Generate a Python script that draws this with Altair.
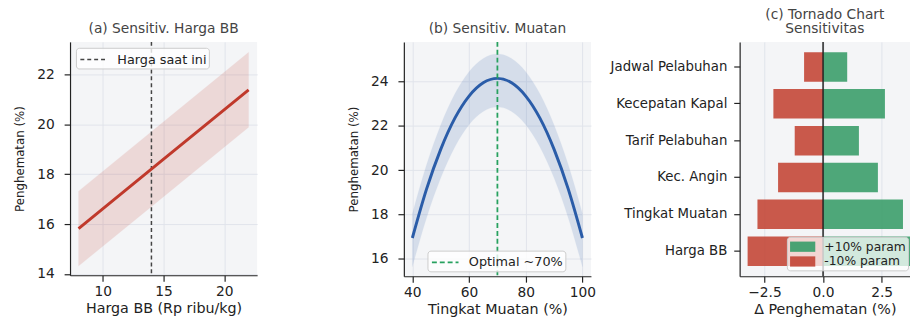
import altair as alt
import pandas as pd

# ---------- data ----------
# (a) sensitivity to fuel price
harga_bb = [8, 15, 22]
hemat_a = [15.82, 18.60, 21.38]
hemat_a_lo = [14.32, 17.10, 19.88]
hemat_a_hi = [17.32, 20.10, 22.88]
harga_saat_ini = 14

# (b) sensitivity to load level
muatan = [40, 45, 50, 55, 60, 65, 70, 75, 80, 85, 90, 95, 100]
hemat_b = [16.93, 19.14, 20.94, 22.35, 23.35, 23.95, 24.15, 23.95, 23.35, 22.35, 20.94, 19.14, 16.93]
hemat_b_lo = [15.63, 17.84, 19.64, 21.05, 22.05, 22.65, 22.85, 22.65, 22.05, 21.05, 19.64, 17.84, 15.63]
hemat_b_hi = [18.03, 20.24, 22.04, 23.45, 24.45, 25.05, 25.25, 25.05, 24.45, 23.45, 22.04, 20.24, 18.03]
muatan_optimal = 70

# (c) tornado chart
parameter = ["Jadwal Pelabuhan", "Kecepatan Kapal", "Tarif Pelabuhan",
             "Kec. Angin", "Tingkat Muatan", "Harga BB"]
delta_plus = [1.03, 2.64, 1.53, 2.34, 3.41, 4.30]
delta_minus = [-0.81, -2.12, -1.21, -1.92, -2.80, -3.22]
seri_label = ["+10% param", "-10% param"]

# ---------- style ----------
FONT = "DejaVu Sans"
BG = "#f4f5f7"
GRID = "#e1e4eb"
INK = "#222222"
RED = "#c0392b"
BLUE = "#2a5ca8"
GREEN_DASH = "#27a15f"
BAR_GREEN = "#3f9f6e"
BAR_RED = "#c44b3c"

W, H = 190, 237
LINE_SYM = "M-1.5,0L1.5,0"
BOX_SYM = "M-1.6,-0.65L1.6,-0.65L1.6,0.65L-1.6,0.65Z"


def title(text):
    return alt.TitleParams(text=text, font=FONT, fontSize=14, fontWeight="normal",
                           color="#444444", offset=5, anchor="middle", lineHeight=15)


def xaxis(t, values, fmt=None):
    kw = dict(title=t, values=values, titleFontSize=14.5, titleFont=FONT,
              titleFontWeight="normal", titleColor=INK, titlePadding=3)
    if fmt:
        kw["format"] = fmt
    return alt.Axis(**kw)


def yaxis(t, values):
    return alt.Axis(title=t, values=values, titleFontSize=12, titleFont=FONT,
                    titleFontWeight="normal", titleColor=INK, titlePadding=10,
                    labelPadding=10)


def line_legend(x, y, dash, width):
    return alt.Legend(title=None, orient="none", legendX=x, legendY=y,
                      fillColor="rgba(255,255,255,0.8)", strokeColor="#cccccc",
                      cornerRadius=3, padding=2, symbolType=LINE_SYM,
                      symbolDash=dash, symbolStrokeWidth=width, symbolSize=324,
                      symbolOffset=6, labelOffset=14,
                      labelFont=FONT, labelFontSize=13, labelColor=INK)


# ---------- (a) ----------
df_a = pd.DataFrame({"x": harga_bb, "y": hemat_a, "lo": hemat_a_lo, "hi": hemat_a_hi})
xa = alt.Scale(domain=[7.3, 22.7], nice=False, zero=False)
ya = alt.Scale(domain=[13.95, 23.3], nice=False, zero=False)

band_a = alt.Chart(df_a).mark_area(color=RED, opacity=0.15, stroke=RED, strokeOpacity=0.2).encode(
    x=alt.X("x:Q", scale=xa, axis=xaxis("Harga BB (Rp ribu/kg)", [10, 15, 20])),
    y=alt.Y("lo:Q", scale=ya, axis=yaxis("Penghematan (%)", [14, 16, 18, 20, 22])),
    y2="hi:Q",
)
line_a = alt.Chart(df_a).mark_line(color=RED, strokeWidth=3).encode(
    x=alt.X("x:Q", scale=xa), y=alt.Y("y:Q", scale=ya)
)
rule_a = alt.Chart(pd.DataFrame({"x": [harga_saat_ini], "lbl": ["Harga saat ini"]})).mark_rule(
    strokeDash=[4, 3], strokeWidth=1.5
).encode(
    x=alt.X("x:Q", scale=xa),
    color=alt.Color("lbl:N", scale=alt.Scale(domain=["Harga saat ini"], range=["#444444"]),
                    legend=line_legend(6, 6, [4, 3], 1.5)),
)
panel_a = alt.layer(band_a, rule_a, line_a).properties(
    width=W, height=H, title=title("(a) Sensitiv. Harga BB"))

# ---------- (b) ----------
df_b = pd.DataFrame({"x": muatan, "y": hemat_b, "lo": hemat_b_lo, "hi": hemat_b_hi})
xb = alt.Scale(domain=[37, 103], nice=False, zero=False)
yb = alt.Scale(domain=[15.2, 25.8], nice=False, zero=False)

band_b = alt.Chart(df_b).mark_area(color=BLUE, opacity=0.15, stroke=BLUE, strokeOpacity=0.15,
                                   interpolate="monotone").encode(
    x=alt.X("x:Q", scale=xb, axis=xaxis("Tingkat Muatan (%)", [40, 60, 80, 100])),
    y=alt.Y("lo:Q", scale=yb, axis=yaxis("Penghematan (%)", [16, 18, 20, 22, 24])),
    y2="hi:Q",
)
line_b = alt.Chart(df_b).mark_line(color=BLUE, strokeWidth=3, interpolate="monotone").encode(
    x=alt.X("x:Q", scale=xb), y=alt.Y("y:Q", scale=yb)
)
rule_b = alt.Chart(pd.DataFrame({"x": [muatan_optimal], "lbl": ["Optimal ~70%"]})).mark_rule(
    strokeDash=[5, 3], strokeWidth=1.8
).encode(
    x=alt.X("x:Q", scale=xb),
    color=alt.Color("lbl:N", scale=alt.Scale(domain=["Optimal ~70%"], range=[GREEN_DASH]),
                    legend=line_legend(24, 212, [5, 3], 1.8)),
)
panel_b = alt.layer(band_b, line_b, rule_b).properties(
    width=W, height=H + 1, title=title("(b) Sensitiv. Muatan"))

# ---------- (c) ----------
rows = []
for p, v in zip(parameter, delta_plus):
    rows.append({"param": p, "val": v, "seri": seri_label[0]})
for p, v in zip(parameter, delta_minus):
    rows.append({"param": p, "val": v, "seri": seri_label[1]})
df_c = pd.DataFrame(rows)
xc = alt.Scale(domain=[-3.56, 3.71], nice=False, zero=False)

bars_c = alt.Chart(df_c).mark_bar(clip=True, opacity=0.92).encode(
    x=alt.X("val:Q", scale=xc, stack=None,
            axis=alt.Axis(title="Δ Penghematan (%)", values=[-2.5, 0, 2.5], format=".1f",
                          labelExpr="replace(datum.label, '-', '\u2212')",
                          titleFontSize=14.5, titleFont=FONT, titleFontWeight="normal",
                          titleColor=INK, titlePadding=3)),
    y=alt.Y("param:N", sort=parameter,
            scale=alt.Scale(paddingInner=0.2, paddingOuter=0.28),
            axis=alt.Axis(title=None, bandPosition=0.5, labelFontSize=13.5, labelPadding=7)),
    color=alt.Color("seri:N", scale=alt.Scale(domain=seri_label, range=[BAR_GREEN, BAR_RED]),
                    legend=alt.Legend(title=None, orient="none", legendX=48, legendY=198,
                                      fillColor="rgba(255,255,255,0.75)", strokeColor="#cccccc",
                                      cornerRadius=3, padding=2, rowPadding=0,
                                      symbolType=BOX_SYM, symbolSize=256, symbolOffset=6,
                                      symbolOpacity=0.95, symbolStrokeWidth=0,
                                      labelOffset=14,
                                      labelFont=FONT, labelFontSize=12.5, labelColor=INK)),
)
zero_c = alt.Chart(pd.DataFrame({"x": [0]})).mark_rule(color=INK, strokeWidth=1.5).encode(
    x=alt.X("x:Q", scale=xc)
)
panel_c = alt.layer(bars_c, zero_c).properties(
    width=173, height=H + 1, title=title(["(c) Tornado Chart", "Sensitivitas"]))

left = alt.hconcat(panel_a, panel_b, spacing=92).resolve_scale(color="independent").resolve_legend(color="independent")
chart = alt.hconcat(left, panel_c, spacing=14).resolve_scale(
    color="independent").resolve_legend(color="independent").properties(
    padding={"left": 6, "top": -3, "right": 0, "bottom": 0}
).configure_view(fill=BG, stroke=None).configure_axis(
    labelFont=FONT, labelFontSize=14, labelColor=INK, domainColor=INK, domainWidth=1.2,
    tickColor=INK, tickSize=6, tickWidth=1.2, labelPadding=4,
    gridColor=GRID, gridWidth=1, titleFont=FONT,
).configure_legend(labelFont=FONT)

chart.save("out.html", embed_options={"renderer": "svg", "actions": False})
